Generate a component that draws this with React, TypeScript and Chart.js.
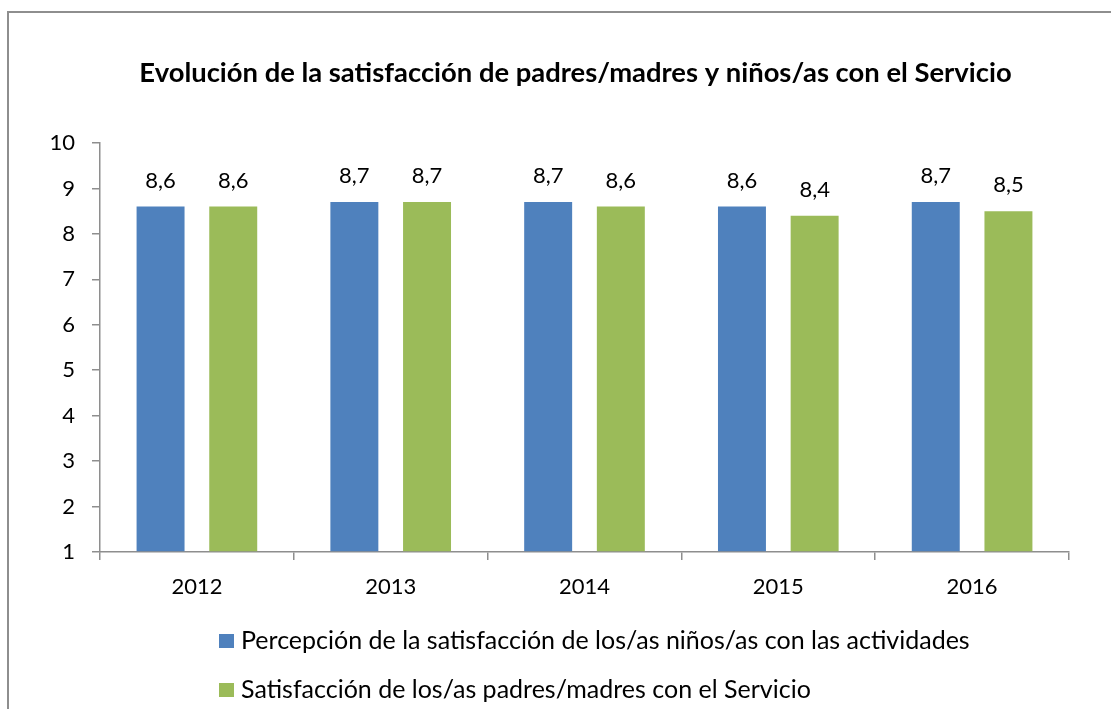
import React, { useEffect, useRef } from "react";
import { Chart, registerables } from "chart.js";

Chart.register(...registerables);

const categories = ["2012", "2013", "2014", "2015", "2016"];
const ninosValues = [8.6, 8.7, 8.7, 8.6, 8.7];
const padresValues = [8.6, 8.7, 8.6, 8.4, 8.5];
const seriesLabels = [
  "Percepción de la satisfacción de los/as niños/as con las actividades",
  "Satisfacción de los/as padres/madres con el Servicio",
];
const titleText = "Evolución de la satisfacción de padres/madres y niños/as con el Servicio";
const yTicks = [1, 2, 3, 4, 5, 6, 7, 8, 9, 10];

const BLUE = "#4F81BD";
const GREEN = "#9BBB59";
const AXIS = "#8e8e8e";
const FONT = "Lato, 'Noto Sans', sans-serif";
const FS = 22;

const fmt = (v: number) => v.toFixed(1).replace(".", ",");

const overlayPlugin = {
  id: "overlay",
  afterDatasetsDraw(chart: any) {
    const ctx = chart.ctx;
    ctx.save();
    ctx.fillStyle = "#000";
    ctx.font = `${FS}px ${FONT}`;
    ctx.textAlign = "center";
    ctx.textBaseline = "middle";
    chart.data.datasets.forEach((ds: any, i: number) => {
      const meta = chart.getDatasetMeta(i);
      meta.data.forEach((el: any, j: number) => {
        ctx.fillText(fmt(ds.data[j]), el.x, el.y - 26);
      });
    });
    ctx.restore();
  },
  afterDraw(chart: any) {
    const ctx = chart.ctx;
    const area = chart.chartArea;
    ctx.save();
    // title
    ctx.fillStyle = "#000";
    ctx.font = `bold 27.4px ${FONT}`;
    ctx.textAlign = "center";
    ctx.textBaseline = "middle";
    ctx.fillText(titleText, area.left + 475.5, area.top - 70);
    // legend
    ctx.font = `25px ${FONT}`;
    ctx.textAlign = "left";
    const rows = [area.bottom + 89, area.bottom + 138];
    chart.data.datasets.forEach((ds: any, i: number) => {
      const cy = rows[i];
      ctx.fillStyle = ds.backgroundColor;
      ctx.fillRect(area.left + 119, cy - 7, 15, 14);
      ctx.fillStyle = "#000";
      ctx.fillText(ds.label, area.left + 141, cy);
    });
    ctx.restore();
  },
};

export default function App() {
  const ref = useRef<HTMLCanvasElement>(null);
  useEffect(() => {
    if (!ref.current) return;
    const chart = new Chart(ref.current, {
      type: "bar",
      data: {
        labels: categories,
        datasets: [
          { label: seriesLabels[0], data: ninosValues, backgroundColor: BLUE, base: 1 },
          { label: seriesLabels[1], data: padresValues, backgroundColor: GREEN, base: 1 },
        ],
      },
      options: {
        animation: false,
        responsive: false,
        maintainAspectRatio: false,
        devicePixelRatio: 1,
        layout: { padding: { left: 0, right: 42, top: 130, bottom: 107 } },
        datasets: { bar: { categoryPercentage: 0.75, barPercentage: 0.66 } },
        plugins: {
          legend: { display: false },
          title: { display: false },
          tooltip: { enabled: false },
        },
        scales: {
          x: {
            grid: { display: true, drawOnChartArea: false, offset: true, tickLength: 8, color: AXIS, lineWidth: 1.5 },
            border: { display: true, color: AXIS, width: 1.5 },
            ticks: { color: "#000", font: { family: FONT, size: FS }, padding: 14 },
            afterFit: (s: any) => { s.height = 50; },
          },
          y: {
            min: 1,
            max: 10,
            afterBuildTicks: (s: any) => { s.ticks = yTicks.map((v) => ({ value: v })); },
            grid: { display: true, drawOnChartArea: false, tickLength: 8, color: AXIS, lineWidth: 1.5 },
            border: { display: true, color: AXIS, width: 1.5 },
            ticks: { color: "#000", font: { family: FONT, size: FS }, padding: 17 },
            afterFit: (s: any) => { s.width = 91; },
          },
        },
      },
      plugins: [overlayPlugin],
    });
    return () => chart.destroy();
  }, []);
  return (
    <div
      style={{
        position: "absolute",
        left: 7,
        top: 11,
        width: 1102,
        height: 696,
        borderTop: "2px solid #8e8e8e",
        borderLeft: "2px solid #8e8e8e",
        overflow: "hidden",
        background: "#fff",
      }}
    >
      <canvas ref={ref} width={1102} height={696} style={{ display: "block" }} />
    </div>
  );
}
